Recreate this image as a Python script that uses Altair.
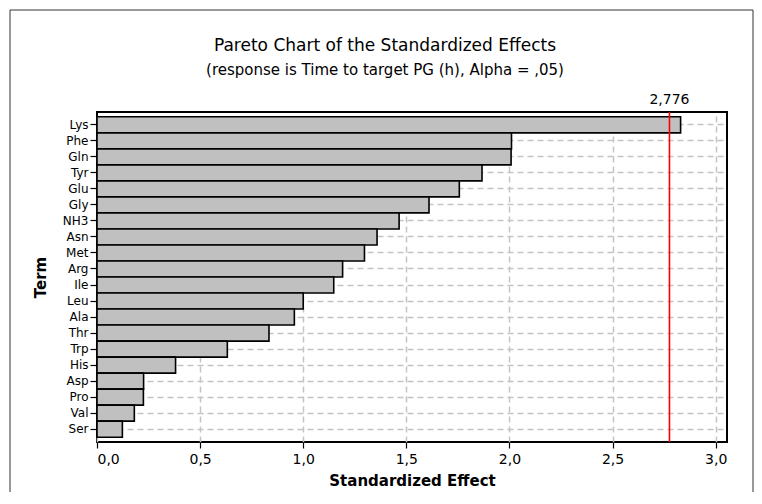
import altair as alt
import pandas as pd

terms = ["Lys", "Phe", "Gln", "Tyr", "Glu", "Gly", "NH3", "Asn", "Met", "Arg",
         "Ile", "Leu", "Ala", "Thr", "Trp", "His", "Asp", "Pro", "Val", "Ser"]
effects = [2.83, 2.01, 2.008, 1.867, 1.757, 1.61, 1.465, 1.358, 1.297, 1.191,
           1.148, 1.0, 0.957, 0.834, 0.632, 0.381, 0.226, 0.225, 0.181, 0.123]
critical = [2.776]
x_ticks = [0.0, 0.5, 1.0, 1.5, 2.0, 2.5, 3.0]
title_text = "Pareto Chart of the Standardized Effects"
subtitle_text = "(response is Time to target PG (h), Alpha = ,05)"

FONT = "DejaVu Sans"
W, H = 630, 330

df = pd.DataFrame({"Term": terms, "Effect": effects})
crit_df = pd.DataFrame({"crit": critical})

xscale = alt.Scale(domain=[0, 3.055], nice=False, zero=True)
yscale = alt.Scale(paddingInner=0, paddingOuter=0.3)

bars = alt.Chart(df).mark_bar(
    color="#c0c0c0", stroke="black", strokeWidth=1.6
).encode(
    x=alt.X("Effect:Q", scale=xscale,
            axis=alt.Axis(values=x_ticks,
                          labelExpr="replace(format(datum.value, '.1f'), '.', ',')",
                          labelFont=FONT, labelFontSize=14, labelColor="black",
                          labelPadding=4, tickSize=6, tickColor="black", tickWidth=1.2,
                          domain=False, grid=True, gridColor="#c4c4c4", gridDash=[6, 4],
                          gridWidth=1.5,
                          title="Standardized Effect", titleFont=FONT, titleFontSize=15,
                          titleFontWeight="bold", titleColor="black",
                          titleX=W / 2, titleY=38, titleBaseline="middle")),
    y=alt.Y("Term:N", sort=terms, scale=yscale,
            axis=alt.Axis(labelFont=FONT, labelFontSize=12, labelColor="black",
                          labelPadding=2, tickSize=7, tickColor="black", tickWidth=1.2,
                          domain=False, grid=True, gridColor="#c4c4c4", gridDash=[6, 4],
                          gridWidth=1.5,
                          title="Term", titleFont=FONT, titleFontSize=15,
                          titleFontWeight="bold", titleColor="black",
                          titleX=-57, titleY=H / 2, titleAngle=-90, titleAlign="center",
                          titleBaseline="middle")),
)

rule = alt.Chart(crit_df).mark_rule(color="#ff0000", strokeWidth=1.6).encode(
    x=alt.X("crit:Q", scale=xscale)
)

rule_label = alt.Chart(crit_df).transform_calculate(
    lbl="replace(format(datum.crit, '.3f'), '.', ',')"
).mark_text(font=FONT, fontSize=14, color="black", baseline="middle").encode(
    x=alt.X("crit:Q", scale=xscale),
    y=alt.value(-12),
    text="lbl:N",
)

one = alt.Data(values=[{}])
title1 = alt.Chart(one).mark_text(
    text=title_text, font=FONT, fontSize=17, color="black", baseline="middle", align="center"
).encode(x=alt.value(288), y=alt.value(-66))
title2 = alt.Chart(one).mark_text(
    text=subtitle_text, font=FONT, fontSize=15, color="black", baseline="middle", align="center"
).encode(x=alt.value(288), y=alt.value(-42))

frame = alt.Chart(one).mark_rect(
    fill="white", fillOpacity=0, stroke="#333333", strokeWidth=1
).encode(x=alt.value(-87), x2=alt.value(656), y=alt.value(-102), y2=alt.value(420))

chart = alt.layer(frame, bars, rule, rule_label, title1, title2).properties(
    width=W, height=H,
    autosize="none",
    background="white",
    padding={"left": 89, "top": 104, "right": 27, "bottom": 50},
).configure_view(
    stroke="black", strokeWidth=2
)

chart.save("out.html", embed_options={"renderer": "svg", "actions": False})
